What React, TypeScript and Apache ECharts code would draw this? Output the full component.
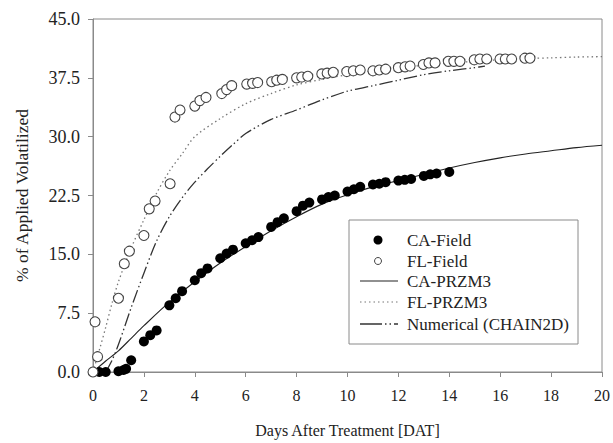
import React, { useEffect, useRef } from "react";
import * as echarts from "echarts";

// Days After Treatment [DAT] vs % of applied volatilized
const caField: number[][] = [
  [0.25, 0], [0.5, 0], [1.0, 0.1], [1.2, 0.25], [1.3, 0.4], [1.5, 1.5],
  [2.0, 3.9], [2.25, 4.7], [2.5, 5.3], [3.0, 8.5], [3.25, 9.4], [3.5, 10.3],
  [4.0, 11.7], [4.25, 12.6], [4.5, 13.2], [5.0, 14.5], [5.25, 15.1], [5.5, 15.6],
  [6.0, 16.4], [6.25, 16.8], [6.5, 17.2], [7.0, 18.5], [7.25, 19.1], [7.5, 19.6],
  [8.0, 20.5], [8.25, 21.2], [8.5, 21.6], [9.0, 22.0], [9.25, 22.3], [9.5, 22.5],
  [10.0, 23.0], [10.25, 23.3], [10.5, 23.6], [11.0, 23.9], [11.25, 24.0], [11.5, 24.2],
  [12.0, 24.4], [12.25, 24.5], [12.5, 24.6], [13.0, 25.0], [13.25, 25.2], [13.5, 25.3],
  [14.0, 25.5],
];

const flField: number[][] = [
  [0, 0], [0.08, 6.4], [0.18, 1.95], [1.0, 9.4], [1.23, 13.8], [1.43, 15.4],
  [2.0, 17.4], [2.21, 20.8], [2.44, 21.8], [3.03, 24.0], [3.22, 32.5], [3.42, 33.4],
  [4.0, 33.9], [4.2, 34.6], [4.44, 35.0], [5.06, 35.5], [5.25, 36.0], [5.45, 36.5],
  [6.04, 36.7], [6.27, 36.8], [6.47, 36.9], [7.02, 37.0], [7.22, 37.2], [7.44, 37.3],
  [8.0, 37.5], [8.2, 37.6], [8.44, 37.7], [8.99, 38.0], [9.2, 38.1], [9.44, 38.2],
  [9.97, 38.3], [10.23, 38.4], [10.5, 38.5], [11.0, 38.4], [11.25, 38.5], [11.5, 38.6],
  [12.0, 38.8], [12.26, 38.9], [12.46, 39.0], [12.98, 39.2], [13.2, 39.4], [13.44, 39.4],
  [13.96, 39.6], [14.18, 39.6], [14.42, 39.6], [14.98, 39.8], [15.2, 39.9], [15.47, 39.9],
  [15.99, 39.9], [16.2, 39.9], [16.45, 39.9], [16.97, 40.0], [17.17, 40.0],
];

const caPrzm3: number[][] = [
  [0, 0], [0.5, 1.4], [1, 2.7], [1.5, 4.3], [2, 5.9], [3, 8.9], [4, 11.5],
  [5, 13.9], [6, 16.0], [7, 18.0], [8, 19.8], [9, 21.4], [10, 22.6], [11, 23.6],
  [12, 24.4], [13, 25.2], [14, 26.0], [15, 26.7], [16, 27.3], [17, 27.8],
  [18, 28.2], [19, 28.6], [20, 28.9],
];

const flPrzm3: number[][] = [
  [0, 0], [0.25, 2.8], [0.5, 5.7], [0.75, 8.8], [1, 11.5], [1.5, 15.8], [2, 19.4],
  [2.5, 22.8], [3, 25.6], [3.5, 27.8], [4, 30.0], [5, 32.3], [6, 34.2], [7, 35.5],
  [8, 36.6], [9, 37.3], [10, 37.9], [11, 38.4], [12, 38.8], [13, 39.1], [14, 39.4],
  [15, 39.6], [16, 39.8], [17, 39.95], [18, 40.05], [19, 40.15], [20, 40.2],
];

const chain2d: number[][] = [
  [0.5, 0], [0.75, 1.5], [1, 3.5], [1.5, 8.2], [2, 12.6], [2.5, 16.7], [3, 19.8],
  [3.5, 22.2], [4, 24.2], [4.5, 25.9], [5, 27.5], [5.5, 29.0], [6, 30.4], [7, 32.2],
  [8, 33.4], [9, 34.7], [10, 35.8], [11, 36.5], [12, 37.2], [13, 37.9], [14, 38.4],
  [15, 38.8], [15.4, 39.0],
];

const legendLabels = ["CA-Field", "FL-Field", "CA-PRZM3", "FL-PRZM3", "Numerical (CHAIN2D)"];

const FONT = "'Liberation Serif', 'Times New Roman', serif";

export default function App() {
  const ref = useRef<HTMLDivElement>(null);
  useEffect(() => {
    document.body.style.margin = "0";
    const chart = echarts.init(ref.current!, null, { renderer: "svg" });
    const lx = 349, ly = 220, lw = 229, lh = 124;
    const rowY = [240, 261, 281, 302, 324];
    const iconX0 = 360, iconX1 = 398, iconCx = 378, textX = 407;
    const option = {
      animation: false,
      backgroundColor: "#ffffff",
      grid: {
        left: 93, right: 11, top: 19, bottom: 70,
        show: true, borderColor: "#8a8a8a", borderWidth: 1,
      },
      xAxis: {
        type: "value", min: 0, max: 20, interval: 2,
        name: "Days After Treatment [DAT]", nameLocation: "middle", nameGap: 50,
        nameTextStyle: { fontFamily: FONT, fontSize: 16, color: "#222" },
        axisLine: { show: true, lineStyle: { color: "#8a8a8a", width: 1 } },
        axisTick: { show: true, inside: false, length: 5, lineStyle: { color: "#8a8a8a" } },
        axisLabel: { margin: 15, fontFamily: FONT, fontSize: 16, color: "#222" },
        splitLine: { show: false },
      },
      yAxis: {
        type: "value", min: 0, max: 45, interval: 7.5,
        name: "% of Applied Volatilized", nameLocation: "middle", nameGap: 62, nameRotate: 90,
        nameTextStyle: { fontFamily: FONT, fontSize: 17.5, color: "#222" },
        axisLine: { show: true, lineStyle: { color: "#8a8a8a", width: 1 } },
        axisTick: { show: true, inside: false, length: 5, lineStyle: { color: "#8a8a8a" } },
        axisLabel: {
          margin: 13, fontFamily: FONT, fontSize: 18, color: "#222",
          formatter: (v: number) => v.toFixed(1),
        },
        splitLine: { show: false },
      },
      series: [
        {
          name: "CA-PRZM3", type: "line", data: caPrzm3, smooth: 0.3, showSymbol: false,
          lineStyle: { color: "#222", width: 1.1, type: "solid" }, z: 2,
        },
        {
          name: "FL-PRZM3", type: "line", data: flPrzm3, smooth: 0.3, showSymbol: false,
          lineStyle: { color: "#777", width: 1.3, type: [1.5, 3] }, z: 2,
        },
        {
          name: "Numerical (CHAIN2D)", type: "line", data: chain2d, smooth: 0.3, showSymbol: false,
          lineStyle: { color: "#333", width: 1.3, type: [13, 3, 1.5, 3, 1.5, 3] }, z: 2,
        },
        {
          name: "CA-Field", type: "scatter", data: caField, symbol: "circle", symbolSize: 10,
          itemStyle: { color: "#000", borderColor: "#000", borderWidth: 0, opacity: 1 }, z: 3,
        },
        {
          name: "FL-Field", type: "scatter", data: flField, symbol: "circle", symbolSize: 10,
          itemStyle: { color: "#fff", borderColor: "#444", borderWidth: 1.1, opacity: 1 }, z: 3,
        },
      ],
      graphic: [
        {
          type: "rect", shape: { x: lx, y: ly, width: lw, height: lh },
          style: { fill: "#fff", stroke: "#8a8a8a", lineWidth: 1 }, z: 10,
        },
        {
          type: "circle", shape: { cx: iconCx, cy: rowY[0], r: 4.5 },
          style: { fill: "#000" }, z: 11,
        },
        {
          type: "circle", shape: { cx: iconCx, cy: rowY[1], r: 3.5 },
          style: { fill: "#fff", stroke: "#444", lineWidth: 1 }, z: 11,
        },
        {
          type: "line", shape: { x1: iconX0, y1: rowY[2], x2: iconX1, y2: rowY[2] },
          style: { stroke: "#222", lineWidth: 1.1 }, z: 11,
        },
        {
          type: "line", shape: { x1: iconX0, y1: rowY[3], x2: iconX1, y2: rowY[3] },
          style: { stroke: "#777", lineWidth: 1.2, lineDash: [1.5, 3] }, z: 11,
        },
        {
          type: "line", shape: { x1: iconX0, y1: rowY[4], x2: iconX1, y2: rowY[4] },
          style: { stroke: "#333", lineWidth: 1.3, lineDash: [22, 3, 1.5, 3, 1.5, 3] }, z: 11,
        },
        ...legendLabels.map((t, i) => ({
          type: "text", x: textX, y: rowY[i], z: 11,
          style: {
            text: t, fill: "#222", fontFamily: FONT, fontSize: 17,
            verticalAlign: "middle", align: "left",
          },
        })),
      ],
    };
    chart.setOption(option as any);
    return () => chart.dispose();
  }, []);
  return <div ref={ref} style={{ width: 613, height: 443 }} />;
}
